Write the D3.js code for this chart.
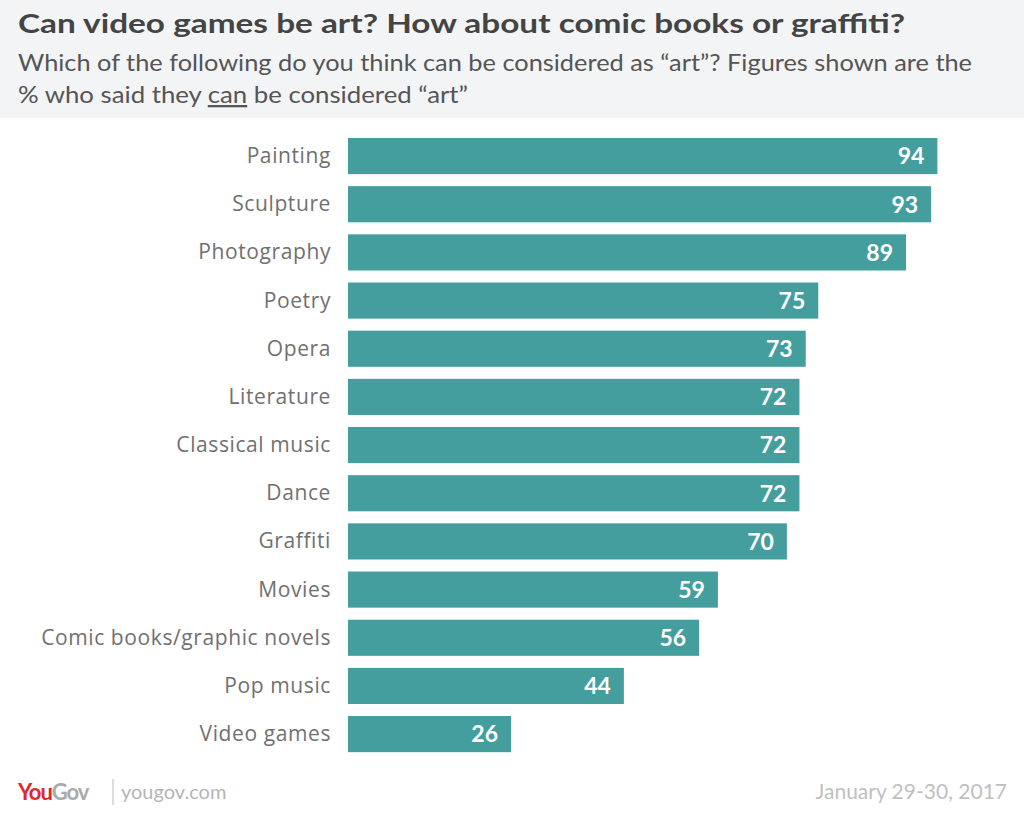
<!DOCTYPE html>
<html><head><meta charset="utf-8">
<script src="https://cdn.jsdelivr.net/npm/d3@7"></script>
<style>body{margin:0;background:#fff;}svg{display:block;}</style>
</head><body>
<script>
const categories = ["Painting","Sculpture","Photography","Poetry","Opera","Literature","Classical music","Dance","Graffiti","Movies","Comic books/graphic novels","Pop music","Video games"];
const values = [94,93,89,75,73,72,72,72,70,59,56,44,26];

const W = 1024, H = 818;
const svg = d3.select("body").append("svg").attr("width", W).attr("height", H);
const font = "Lato, 'Open Sans', sans-serif";
const labelFont = "'Open Sans', sans-serif";

svg.append("rect").attr("x",0).attr("y",0).attr("width",W).attr("height",118).attr("fill","#f3f4f6");
svg.append("text").attr("x",18).attr("y",33).attr("font-family",font).attr("font-weight","bold").attr("font-size",27).attr("fill","#444")
  .attr("textLength",887).attr("lengthAdjust","spacingAndGlyphs")
  .text("Can video games be art? How about comic books or graffiti?");
svg.append("text").attr("x",18).attr("y",71).attr("font-family",font).attr("font-size",23).attr("fill","#555")
  .attr("textLength",954).attr("lengthAdjust","spacingAndGlyphs")
  .text("Which of the following do you think can be considered as \u201cart\u201d? Figures shown are the");
const sub2 = svg.append("text").attr("x",18).attr("y",103).attr("font-family",font).attr("font-size",23).attr("fill","#555")
  .attr("textLength",450).attr("lengthAdjust","spacingAndGlyphs");
sub2.append("tspan").text("% who said they ");
sub2.append("tspan").attr("text-decoration","underline").text("can");
sub2.append("tspan").text(" be considered \u201cart\u201d");

const x = d3.scaleLinear().domain([0,100]).range([348,975]);
const step = 48.17;
const y = d3.scaleBand().domain(categories).range([138, 138+step*12.75]).paddingInner(0.25).paddingOuter(0);

const g = svg.append("g");
g.selectAll("rect.bar").data(categories).join("rect").attr("class","bar")
  .attr("x", x(0)).attr("y", d=>y(d)).attr("width", (d,i)=>x(values[i])-x(0)).attr("height", y.bandwidth())
  .attr("fill","#449e9e");
g.selectAll("text.val").data(categories).join("text").attr("class","val")
  .attr("x",(d,i)=>x(values[i])-13).attr("y",d=>y(d)+y.bandwidth()/2).attr("dy","0.36em")
  .attr("text-anchor","end").attr("font-family",font).attr("font-weight","bold").attr("font-size",23).attr("fill","#fff")
  .text((d,i)=>values[i]);
g.selectAll("text.cat").data(categories).join("text").attr("class","cat")
  .attr("x",331).attr("y",d=>y(d)+y.bandwidth()/2).attr("dy","0.33em")
  .attr("text-anchor","end").attr("font-family",labelFont).attr("font-size",21).attr("letter-spacing",0.6).attr("fill","#707070")
  .text(d=>d);

// footer
const logo = svg.append("text").attr("x",18).attr("y",800).attr("font-family",font).attr("font-weight","bold").attr("font-size",22).attr("letter-spacing",-1);
logo.append("tspan").attr("fill","#e0262d").text("You");
logo.append("tspan").attr("fill","#aaa").text("Gov");
svg.append("line").attr("x1",113).attr("x2",113).attr("y1",779).attr("y2",805).attr("stroke","#bbb").attr("stroke-width",1);
svg.append("text").attr("x",121).attr("y",799).attr("font-family",font).attr("font-size",20).attr("fill","#b5b5b5").text("yougov.com");
svg.append("text").attr("x",1007).attr("y",799).attr("text-anchor","end").attr("font-family",font).attr("font-size",21).attr("fill","#c0c0c0").text("January 29-30, 2017");
</script>
</body></html>
